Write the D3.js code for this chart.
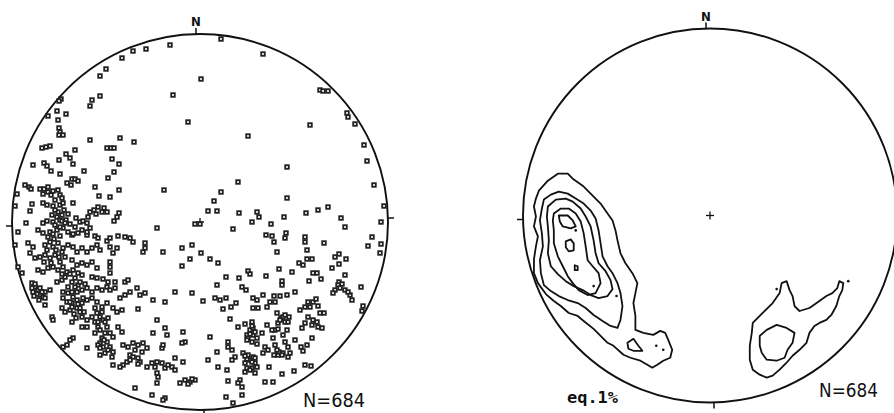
<!DOCTYPE html>
<html>
<head>
<meta charset="utf-8">
<script src="https://cdn.jsdelivr.net/npm/d3@7"></script>
<style>
  body { margin: 0; background: #fff; }
  svg { display: block; }
</style>
</head>
<body>
<svg id="chart" width="894" height="413"></svg>
<script>
// poles digitised on the equal-area net, east / north, primitive radius R
const R = 188;

const polesNorth = [
  [-30,177],[-54,173],[-67,171],[-78,164],[-94,153],[-100,146],[1,143],[-27,127],[-100,126],[-108,122],
  [-110,116],[-139,123],[-141,121],[-152,106],[-143,111],[-134,108],[-142,102],[-141,94],[-140,90],[-137,87],
  [-141,87],[-12,100],[-110,82],[-80,84],[-66,80],[-158,74],[-154,75],[-150,76],[-125,72],[-93,74],
  [-89,74],[-86,74],[-134,68],[-130,64],[-141,62],[-127,58],[-88,63],[-81,58],[-167,57],[-156,59],
  [-153,56],[-149,51],[-140,48],[-116,51],[-86,50],[-92,44],[-36,32],[-128,43],[-125,43],[-122,41],
  [-133,39],[-129,37],[-175,37],[-171,35],[-169,33],[-183,28],[-160,33],[-156,33],[-152,30],[-149,27],
  [-142,32],[-140,27],[-138,24],[-145,22],[-105,35],[-101,26],[-90,25],[-81,32],[-185,16],[-168,18],
  [-170,11],[-157,19],[-153,17],[-147,16],[-140,17],[-137,19],[-142,10],[-138,7],[-132,8],[-127,19],
  [-110,10],[-106,12],[-102,15],[-98,10],[-93,10],[-81,9],[-83,5],[-174,-1],[-157,-1],[-153,1],
  [-120,0],[-117,1],[-113,-1],[-86,1],[-5,-2],[0,-2],
  [-157,28],[-152,35],[-147,31],[-145,12],[-143,5],[-136,12],[-140,2],[-148,7],[-134,2],[-124,4],
  [-112,5],[-104,8],[-96,14],
  [21,183],[63,168],[120,132],[123,131],[128,131],[147,109],[148,105],[155,98],[110,97],[48,86],
  [164,77],[167,61],[87,55],[38,40],[174,37],[21,30],[14,21],[87,24],[8,11],[17,11],
  [39,9],[57,10],[59,5],[52,0],[84,5],[106,9],[118,12],[128,15],[141,4],[184,16],
  [181,0],[71,-2]
];

const polesSW = [
  [-147,0],[-138,1],[-130,-2],
  [-182,-10],[-162,-8],[-157,-11],[-150,-10],[-143,-8],[-137,-6],[-132,-10],[-128,-13],[-122,-11],[-113,-13],
  [-105,-14],[-102,-16],[-93,-19],[-90,-16],[-82,-14],[-75,-15],[-70,-16],[-67,-20],[-43,-6],[-55,-21],[-37,-30],
  [-185,-23],[-172,-21],[-167,-25],[-170,-31],[-165,-36],[-155,-23],[-150,-20],[-147,-25],[-142,-21],[-137,-26],
  [-132,-23],[-127,-25],[-123,-30],[-118,-26],[-113,-30],[-108,-26],[-103,-23],[-100,-28],[-90,-25],[-83,-26],
  [-87,-31],[-57,-30],[-55,-26],[-18,-26],[-8,-23],[-10,-37],[-18,-44],
  [-160,-35],[-155,-33],[-150,-36],[-145,-33],[-140,-40],[-135,-35],[-128,-38],[-123,-43],[-118,-41],[-113,-43],
  [-108,-40],[-103,-46],[-90,-40],[-90,-45],[-162,-48],[-157,-50],[-152,-46],[-147,-45],[-142,-48],[-137,-45],
  [-133,-50],[-127,-48],[-122,-51],[-118,-53],[-108,-55],[-103,-56],[-97,-57],[-92,-60],[-85,-60],[-182,-45],
  [-178,-51],[-90,-51],
  [-143,-60],[-138,-58],[-128,-60],[-125,-56],[-122,-63],[-168,-61],[-165,-65],[-162,-68],[-167,-70],[-160,-73],
  [-155,-70],[-150,-68],[-157,-75],[-155,-83],[-137,-70],[-132,-71],[-127,-75],[-123,-70],[-118,-68],[-113,-66],
  [-108,-70],[-103,-66],[-98,-68],[-93,-65],[-90,-68],[-85,-66],[-75,-60],[-72,-58],[-70,-70],[-63,-66],
  [-60,-73],[-55,-71],[-47,-78],[-35,-80],[-25,-70],[-8,-71],[-80,-76],[-75,-73],
  [-137,-76],[-133,-80],[-128,-81],[-123,-78],[-118,-81],[-113,-78],[-108,-76],[-103,-80],[-98,-85],[-93,-81],
  [-87,-86],[-83,-90],[-78,-88],[-62,-87],[-138,-86],[-135,-90],[-130,-88],[-123,-86],[-120,-90],[-118,-95],
  [-113,-98],[-103,-91],[-100,-95],[-97,-98],[-92,-96],[-148,-95],[-147,-98],[-128,-100],[-118,-105],[-113,-105],
  [-105,-100],[-102,-105],
  [-82,-105],[-78,-110],[-90,-111],[-87,-115],[-98,-116],[-93,-120],[-100,-121],[-105,-111],[-95,-111],[-127,-116],
  [-130,-118],[-133,-123],[-137,-125],[-47,-111],[-43,-98],[-35,-106],[-33,-113],[-17,-110],[-15,-120],[-18,-121],
  [-25,-136],[-17,-140],[-38,-126],[-37,-123],
  [-113,-126],[-102,-123],[-97,-125],[-90,-125],[-87,-130],[-100,-133],[-95,-131],[-77,-123],[-72,-125],[-67,-121],
  [-62,-123],[-57,-121],[-53,-126],[-70,-133],[-67,-135],[-62,-136],[-60,-140],[-73,-140],[-77,-143],[-80,-145],
  [-88,-135],[-87,-143],[-53,-145],[-48,-141],[-43,-140],[-38,-141],[-35,-146],[-28,-145],[-25,-148],[-43,-151],
  [-42,-155],[-43,-161],
  [-20,-161],[-15,-158],[-10,-160],[-5,-158],[-65,-166],[-48,-173],[-35,-176],[-37,-178],
  [-152,-15],[-146,-17],[-153,-28],[-144,-28],[-149,-41],[-141,-35],[-138,-30],[-156,-40],[-147,-12],[-140,-14],
  [-165,-62],[-160,-66],[-163,-72],[-158,-70],[-168,-66],[-155,-76],[-161,-78],[-166,-74],
  [-128,-85],[-122,-82],[-126,-92],[-120,-86],[-116,-90],[-124,-96],[-130,-80],[-117,-76],
  [-105,-86],[-98,-90],[-95,-100],[-102,-100],[-108,-95],[-93,-105],[-100,-108],
  [-135,-55],[-130,-52],[-125,-65],[-120,-60],[-115,-62],[-132,-65],[-138,-52],[-128,-70],
  [-125,-5],[-118,-8],[-110,-6],[-127,-12],[-113,-10],[-145,-3],[-140,-5],[-135,-1],
  [-65,-128],[-58,-130],[-70,-138],[-62,-142],[-45,-145],[-32,-143],[-12,-162],[-8,-157],[-96,-118],[-92,-128],
  [-100,-126]
];

const polesSE = [
  [33,-7],[145,-5],[66,-13],[72,-14],[74,-20],[86,-11],[85,-16],[105,-15],[105,-20],[124,-21],
  [172,-15],[181,-22],[168,-24],[180,-31],[1,-31],[10,-37],[18,-41],[77,-30],[107,-28],[99,-41],
  [103,-43],[107,-37],[112,-37],[139,-32],[135,-35],[146,-37],[139,-42],[132,-46],[92,-50],[79,-47],
  [113,-51],[117,-51],[121,-57],[109,-59],[145,-53],[139,-60],[138,-63],[135,-68],[133,-71],[145,-68],
  [150,-73],[152,-78],[161,-65],[163,-84],[162,-89],
  [48,-49],[50,-52],[66,-54],[82,-59],[82,-63],[26,-55],[39,-56],[42,-65],[46,-68],[17,-63],
  [3,-79],[15,-76],[20,-78],[26,-76],[23,-87],[31,-85],[36,-81],[30,-97],[53,-76],[57,-78],
  [53,-86],[58,-86],[63,-73],[67,-85],[70,-80],[75,-80],[74,-74],[80,-74],[87,-73],[95,-70],
  [77,-91],[81,-96],[83,-95],[85,-100],[89,-95],[78,-101],[75,-108],[78,-107],[87,-108],[83,-113],
  [73,-116],[100,-88],[105,-85],[110,-85],[113,-80],[116,-77],[108,-95],[105,-101],[102,-106],[113,-98],
  [118,-105],[122,-106],[120,-91],[124,-91],
  [38,-105],[45,-102],[52,-100],[50,-108],[53,-106],[47,-113],[48,-116],[53,-113],[57,-116],[52,-120],
  [62,-111],[67,-103],[72,-108],[65,-125],[68,-128],[63,-131],[75,-123],[85,-120],[88,-125],[90,-131],
  [95,-118],[101,-125],[103,-129],[107,-123],[112,-116],[83,-131],[78,-133],[88,-135],
  [28,-120],[28,-125],[32,-128],[35,-135],[32,-138],[17,-130],[10,-115],[8,-138],[18,-145],[27,-148],
  [43,-131],[48,-133],[50,-138],[53,-135],[55,-141],[45,-141],[47,-146],[52,-146],[55,-151],[45,-150],
  [69,-145],[79,-130],[82,-133],[94,-149],[82,-152],[105,-143],[111,-144],
  [40,-158],[42,-165],[38,-161],[65,-160],[73,-160],[28,-159],[26,-175],[33,-181],[42,-173],
  [50,-112],[55,-110],[47,-118],[57,-122],[52,-104],[47,-137],[52,-140],[57,-145],[50,-148],[45,-134],
  [55,-136],[80,-98],[85,-93],[88,-100],[112,-103],[117,-100],[142,-62],[148,-70],[140,-66],[108,-80],
  [118,-84],[77,-128],[74,-133]
];

// contour lines, same net units
const swLevel1 = [
  [-172,25],[-163,35],[-153,42],[-143,42],[-138,37],[-128,30],[-120,22],[-110,12],[-103,2],[-98,-5],
  [-95,-15],[-93,-25],[-90,-38],[-85,-48],[-78,-58],[-73,-68],[-75,-78],[-77,-88],[-75,-101],[-75,-115],
  [-67,-118],[-57,-120],[-50,-116],[-45,-118],[-42,-125],[-38,-135],[-40,-143],[-47,-146],[-53,-150],[-58,-153],
  [-63,-150],[-70,-146],[-80,-143],[-87,-140],[-97,-131],[-103,-128],[-110,-121],[-117,-114],[-127,-106],[-133,-101],
  [-142,-98],[-150,-91],[-157,-86],[-165,-79],[-173,-68],[-177,-58],[-177,-44],[-175,-31],[-173,-21],[-177,-11],
  [-175,-1],[-177,9],[-175,17]
];
const swLevel2 = [
  [-167,16],[-160,21],[-152,24],[-143,22],[-135,17],[-127,12],[-120,5],[-115,-3],[-112,-15],[-110,-28],
  [-108,-41],[-103,-51],[-98,-58],[-93,-68],[-90,-78],[-88,-91],[-90,-105],[-93,-113],[-100,-111],[-108,-106],
  [-117,-100],[-125,-93],[-133,-88],[-143,-85],[-152,-81],[-160,-76],[-167,-70],[-170,-58],[-171,-45],[-168,-31],
  [-169,-18],[-171,-5],[-169,7]
];
const swLevel2b = [[-83,-128],[-77,-124],[-72,-131],[-68,-136],[-77,-136],[-82,-134]];
const swLevel3 = [
  [-163,9],[-155,16],[-145,17],[-138,14],[-130,7],[-125,-1],[-120,-11],[-117,-25],[-115,-38],[-112,-48],
  [-105,-56],[-100,-65],[-98,-74],[-103,-81],[-112,-83],[-120,-80],[-128,-75],[-137,-71],[-145,-66],[-153,-59],
  [-160,-51],[-163,-38],[-162,-25],[-163,-11],[-164,-1]
];
const swLevel4 = [
  [-157,2],[-150,7],[-142,7],[-135,2],[-130,-6],[-127,-18],[-125,-31],[-123,-45],[-118,-51],[-112,-58],
  [-110,-68],[-115,-78],[-123,-80],[-132,-75],[-138,-68],[-143,-61],[-148,-51],[-153,-41],[-157,-28],[-157,-15],
  [-158,-5]
];
const swLevel5 = [
  [[-152,0],[-143,0],[-138,-5],[-135,-11],[-140,-13],[-148,-11],[-151,-6]],
  [[-145,-26],[-140,-24],[-137,-28],[-137,-35],[-142,-36],[-145,-32]],
  [[-136,-50],[-133,-51],[-133,-55],[-136,-55]]
];
const seLevel1 = [
  [42,-118],[43,-108],[53,-98],[63,-88],[70,-78],[72,-68],[77,-66],[80,-75],[83,-81],[85,-91],
  [90,-96],[100,-93],[110,-86],[117,-81],[123,-78],[128,-73],[130,-66],[134,-68],[133,-75],[130,-81],
  [127,-91],[122,-100],[117,-105],[110,-108],[105,-111],[100,-118],[97,-128],[90,-135],[83,-141],[77,-148],
  [70,-155],[63,-161],[57,-163],[50,-160],[43,-155],[40,-145],[40,-131]
];
const seLevel2 = [
  [50,-121],[57,-115],[67,-110],[77,-113],[85,-118],[83,-128],[78,-135],[75,-143],[67,-146],[57,-145],
  [52,-138],[50,-131]
];
const contourSpots = [[-135,-15],[-117,-71],[-94,-81],[-54,-131],[-47,-135],[67,-74],[139,-66]];

const countLabel = "N=684";
const intervalLabel = "eq.1%";

const poles = polesNorth.concat(polesSW, polesSE);
const contourLoops = [swLevel1, swLevel2, swLevel2b, swLevel3, swLevel4, ...swLevel5, seLevel1, seLevel2];

const svg = d3.select("#chart");

const nets = [
  { cx: 200, cy: 222, r: 188, tilt: -1.2 },
  { cx: 710, cy: 215.5, r: 187, tilt: -1.2 }
];
nets.forEach(n => {
  n.x = d3.scaleLinear().domain([-R, R]).range([n.cx - n.r, n.cx + n.r]);
  n.y = d3.scaleLinear().domain([-R, R]).range([n.cy + n.r, n.cy - n.r]);
});

function drawFrame(net, g) {
  g.append("circle")
    .attr("cx", net.x(0)).attr("cy", net.y(0))
    .attr("r", net.x(R) - net.x(0))
    .attr("fill", "none").attr("stroke", "#111").attr("stroke-width", 1.9);

  // small ticks at N, E, S, W
  [0, 90, 180, 270].forEach(az => {
    const a = (az + net.tilt) * Math.PI / 180;
    g.append("line")
      .attr("x1", net.x(R * Math.sin(a))).attr("y1", net.y(R * Math.cos(a)))
      .attr("x2", net.x((R + 6) * Math.sin(a))).attr("y2", net.y((R + 6) * Math.cos(a)))
      .attr("stroke", "#111").attr("stroke-width", 1.5);
  });

  const aN = net.tilt * Math.PI / 180;
  g.append("text")
    .attr("x", net.x((R + 10) * Math.sin(aN)))
    .attr("y", net.y(R + 8))
    .attr("text-anchor", "middle")
    .attr("font-family", "DejaVu Sans Condensed, sans-serif")
    .attr("font-weight", "bold")
    .attr("font-size", 13)
    .attr("fill", "#111")
    .text("N");
}

function drawCross(net, g) {
  g.append("g").selectAll("line")
    .data([[-4, 0, 4, 0], [0, -4, 0, 4]])
    .enter().append("line")
    .attr("x1", d => net.x(d[0])).attr("y1", d => net.y(d[1]))
    .attr("x2", d => net.x(d[2])).attr("y2", d => net.y(d[3]))
    .attr("stroke", "#111").attr("stroke-width", 1.3);
}

// ---- left: pole plot
const left = nets[0];
const gL = svg.append("g");
drawFrame(left, gL);
drawCross(left, gL);

gL.append("g").selectAll("rect")
  .data(poles)
  .enter().append("rect")
  .attr("x", d => left.x(d[0]) - 1.8)
  .attr("y", d => left.y(d[1]) - 1.8)
  .attr("width", 3.6).attr("height", 3.6)
  .attr("fill", "#fff")
  .attr("stroke", "#222")
  .attr("stroke-width", 1.8);

gL.append("text")
  .attr("x", 303).attr("y", 407)
  .attr("font-family", "DejaVu Sans Condensed, sans-serif")
  .attr("font-size", 20)
  .attr("textLength", 62).attr("lengthAdjust", "spacingAndGlyphs")
  .attr("fill", "#111")
  .text(countLabel);

// ---- right: contoured density
const right = nets[1];
const gR = svg.append("g");

svg.append("defs").append("clipPath").attr("id", "netclip")
  .append("circle")
  .attr("cx", right.x(0)).attr("cy", right.y(0))
  .attr("r", right.x(R) - right.x(0));

const contourLine = d3.line()
  .x(d => right.x(d[0]))
  .y(d => right.y(d[1]))
  .curve(d3.curveLinearClosed);

const gC = gR.append("g").attr("clip-path", "url(#netclip)");
gC.selectAll("path")
  .data(contourLoops)
  .enter().append("path")
  .attr("d", contourLine)
  .attr("fill", "none")
  .attr("stroke", "#111")
  .attr("stroke-width", 1.8)
  .attr("stroke-linejoin", "round");

gC.selectAll("circle")
  .data(contourSpots)
  .enter().append("circle")
  .attr("cx", d => right.x(d[0]))
  .attr("cy", d => right.y(d[1]))
  .attr("r", 1.3)
  .attr("fill", "#111");

drawFrame(right, gR);
drawCross(right, gR);

gR.append("text")
  .attr("x", 819).attr("y", 397)
  .attr("font-family", "DejaVu Sans Condensed, sans-serif")
  .attr("font-size", 20)
  .attr("textLength", 59).attr("lengthAdjust", "spacingAndGlyphs")
  .attr("fill", "#111")
  .text(countLabel);

gR.append("text")
  .attr("x", 567).attr("y", 403)
  .attr("font-family", "DejaVu Sans Mono, monospace")
  .attr("font-size", 15)
  .attr("font-weight", "bold")
  .attr("textLength", 51).attr("lengthAdjust", "spacingAndGlyphs")
  .attr("fill", "#111")
  .text(intervalLabel);
</script>
</body>
</html>
